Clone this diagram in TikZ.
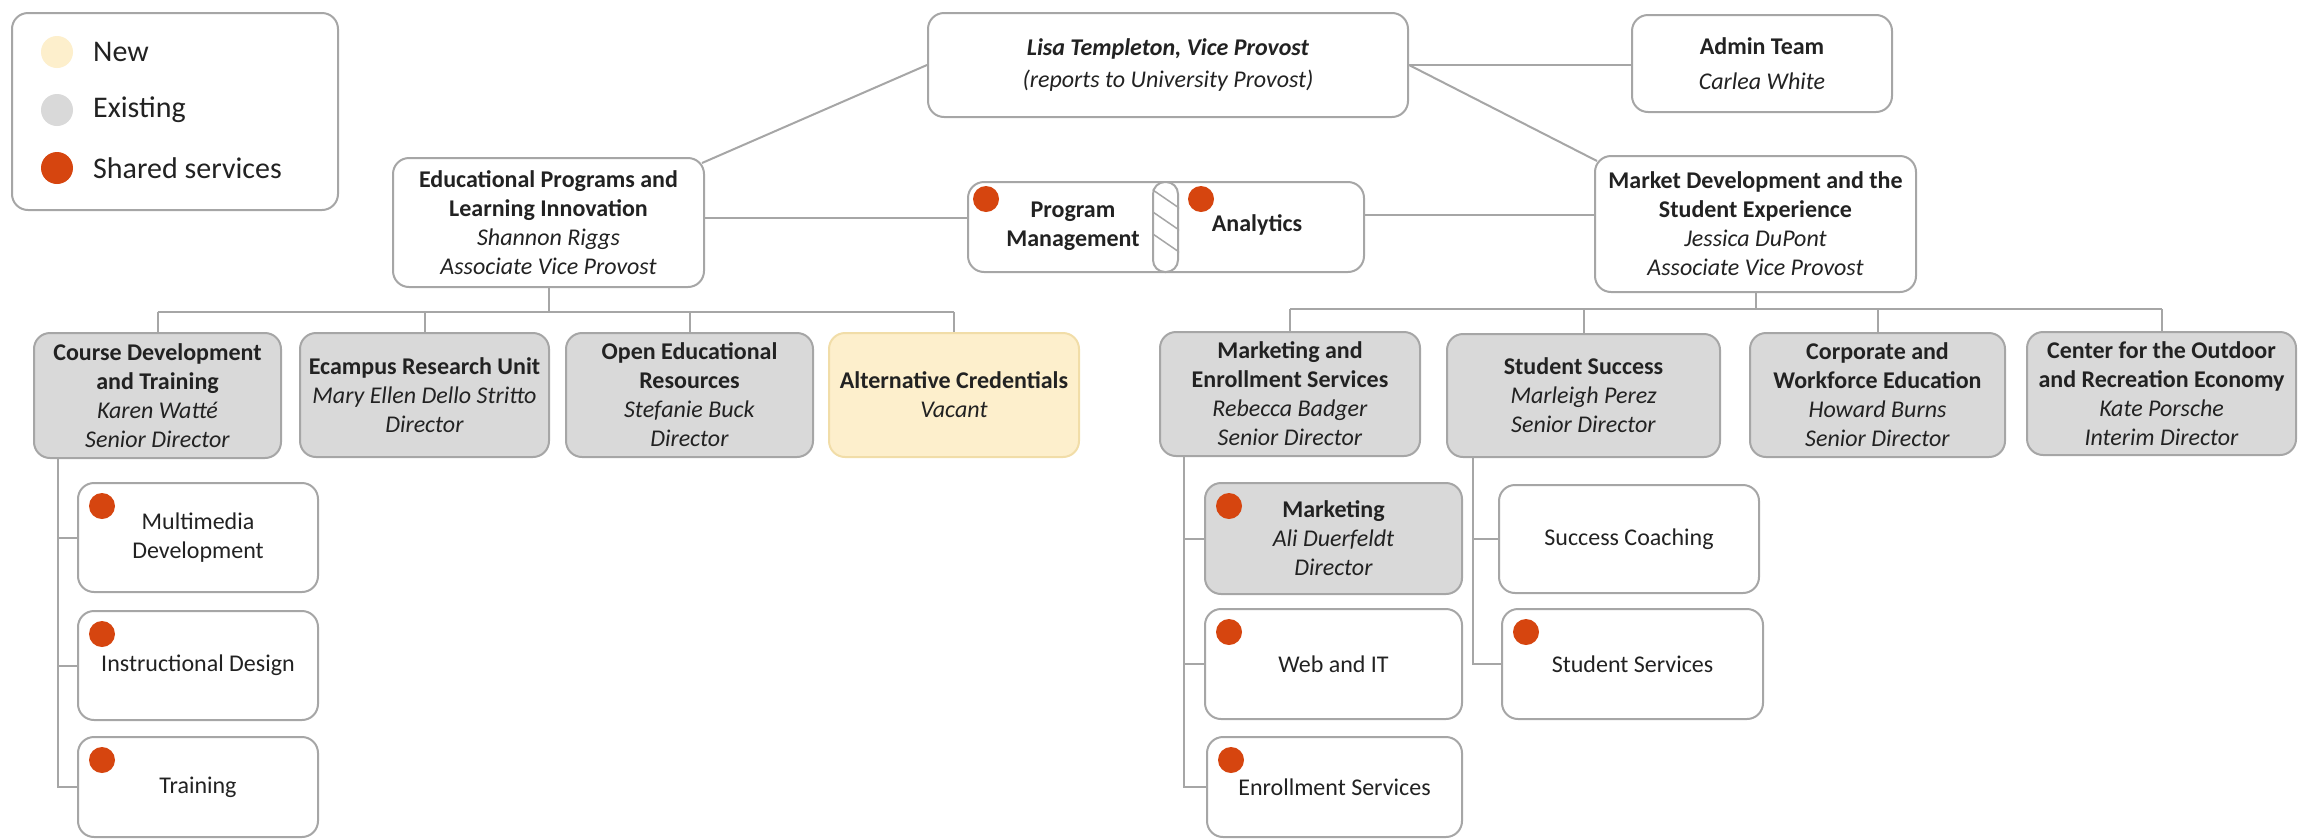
\documentclass[tikz,border=0pt]{standalone}
\usepackage{fontspec}
\setmainfont{Carlito}
\usepackage{tikz}
\definecolor{linegray}{HTML}{A6A6A6}
\definecolor{existgray}{HTML}{D9D9D9}
\definecolor{newyellow}{HTML}{FDEFCC}
\definecolor{newedge}{HTML}{F1DDA8}
\definecolor{sharedred}{HTML}{D6450F}
\definecolor{inkgray}{HTML}{222222}

\begin{document}
\begin{tikzpicture}[x=1pt,y=-1pt]
      \tikzstyle{unit}=[rectangle, rounded corners=16pt, draw=linegray, line width=2pt, fill=white, inner sep=0pt, align=center, text=inkgray, font=\fontsize{24}{29}\selectfont]
      \tikzstyle{existing}=[unit, fill=existgray]
      \tikzstyle{newunit}=[unit, fill=newyellow, draw=newedge]
      \tikzstyle{wire}=[draw=linegray, line width=2pt]
      \tikzstyle{shared}=[fill=sharedred]
      \tikzstyle{key}=[anchor=west, inner sep=0pt, text=inkgray, font=\fontsize{30}{36}\selectfont]
      \useasboundingbox (0,0) rectangle (2298,839);

      \node[unit, minimum width=326pt, minimum height=197pt] (legend) at (175,111.5) {};
      \fill[newyellow] (57,52) circle (16pt);
      \fill[existgray] (57,110) circle (16pt);
      \fill[shared] (57,168) circle (16pt);
      \node[key] (lnew) at (93,52) {New};
      \node[key] (lexist) at (93,110) {Existing};
      \node[key] (lshared) at (93,168) {Shared services};

      \node[unit, minimum width=480pt, minimum height=104pt] (lisa) at (1168,65)
        {\textbf{\textit{Lisa Templeton, Vice Provost}}\\[3pt]\textit{(reports to University Provost)}};
      \node[unit, minimum width=260pt, minimum height=97pt] (admin) at (1762,63.5)
        {\textbf{Admin Team}\\[6pt]\textit{Carlea White}};
      \node[unit, minimum width=311pt, minimum height=129pt] (edu) at (548.5,222.5)
        {\textbf{Educational Programs and}\\\textbf{Learning Innovation}\\\textit{Shannon Riggs}\\\textit{Associate Vice Provost}};
      \node[unit, minimum width=321pt, minimum height=136pt] (market) at (1755.5,224)
        {\textbf{Market Development and the}\\\textbf{Student Experience}\\\textit{Jessica DuPont}\\\textit{Associate Vice Provost}};

      \node[unit, minimum width=396pt, minimum height=90pt] (pmbox) at (1166,227) {};
      \node[unit, rounded corners=12pt, minimum width=25pt, minimum height=90pt] (pmdiv) at (1165.5,227) {};
      \begin{scope}
        \clip[rounded corners=12pt] (pmdiv.south west) rectangle (pmdiv.north east);
        \foreach \y in {188,210,232} \draw[linegray, line width=1.5pt] (1150,\y) -- (1182,\y+22);
      \end{scope}
      \fill[shared] ([shift={(19pt,-18pt)}]pmbox.north west) circle (13pt);
      \fill[shared] ([shift={(22pt,-18pt)}]pmdiv.north east) circle (13pt);
      \node[unit, draw=none, fill=none] (pm) at (1073,226.5) {\textbf{Program}\\\textbf{Management}};
      \node[unit, draw=none, fill=none] (ana) at (1257,225) {\textbf{Analytics}};

      \node[existing, minimum width=247pt, minimum height=125pt] (cdt) at (157.5,395.5)
        {\textbf{Course Development}\\\textbf{and Training}\\\textit{Karen Watté}\\\textit{Senior Director}};
      \node[existing, minimum width=249pt, minimum height=124pt] (eru) at (424.5,395)
        {\textbf{Ecampus Research Unit}\\\textit{Mary Ellen Dello Stritto}\\\textit{Director}};
      \node[existing, minimum width=247pt, minimum height=124pt] (oer) at (689.5,395)
        {\textbf{Open Educational}\\\textbf{Resources}\\\textit{Stefanie Buck}\\\textit{Director}};
      \node[newunit, minimum width=250pt, minimum height=124pt] (altc) at (954,395)
        {\textbf{Alternative Credentials}\\\textit{Vacant}};

      \node[existing, minimum width=260pt, minimum height=124pt] (mes) at (1290,394)
        {\textbf{Marketing and}\\\textbf{Enrollment Services}\\\textit{Rebecca Badger}\\\textit{Senior Director}};
      \node[existing, minimum width=273pt, minimum height=123pt] (ssu) at (1583.5,395.5)
        {\textbf{Student Success}\\\textit{Marleigh Perez}\\\textit{Senior Director}};
      \node[existing, minimum width=255pt, minimum height=124pt] (cwe) at (1877.5,395)
        {\textbf{Corporate and}\\\textbf{Workforce Education}\\\textit{Howard Burns}\\\textit{Senior Director}};
      \node[existing, minimum width=269pt, minimum height=123pt] (core) at (2161.5,393.5)
        {\textbf{Center for the Outdoor}\\\textbf{and Recreation Economy}\\\textit{Kate Porsche}\\\textit{Interim Director}};

      \node[unit, minimum width=240pt, minimum height=109pt] (mmd) at (198,537.5) {Multimedia\\Development};
      \node[unit, minimum width=240pt, minimum height=109pt] (ides) at (198,665.5) {Instructional Design};
      \node[unit, minimum width=240pt, minimum height=100pt] (trn) at (198,787) {Training};

      \node[existing, minimum width=257pt, minimum height=111pt] (mkt) at (1333.5,538.5)
        {\textbf{Marketing}\\\textit{Ali Duerfeldt}\\\textit{Director}};
      \node[unit, minimum width=257pt, minimum height=110pt] (web) at (1333.5,664) {Web and IT};
      \node[unit, minimum width=255pt, minimum height=100pt] (enr) at (1334.5,787) {Enrollment Services};
      \node[unit, minimum width=260pt, minimum height=108pt] (sco) at (1629,539) {Success Coaching};
      \node[unit, minimum width=261pt, minimum height=110pt] (ssv) at (1632.5,664) {Student Services};

      \foreach \n in {mmd,ides,trn,mkt,web,enr,ssv}
        \fill[shared] ([shift={(25pt,-24pt)}]\n.north west) circle (13pt);

      \draw[wire] (lisa.west) -- ([shift={(-3pt,-6pt)}]edu.north east);
      \draw[wire] (lisa.east) -- ([shift={(3pt,-6pt)}]market.north west);
      \draw[wire] (lisa.east) -- (lisa.east -| admin.west);
      \draw[wire] ([yshift=5pt]edu.east) -- ([yshift=5pt]edu.east -| pmbox.west);
      \draw[wire] ([yshift=9pt]market.west) -- ([yshift=9pt]market.west -| pmbox.east);

      \coordinate (ebus) at (548.5,312);
      \draw[wire] (edu.south) -- (ebus);
      \draw[wire] (cdt.north |- ebus) -- (altc.north |- ebus);
      \foreach \n in {cdt,eru,oer,altc} \draw[wire] (\n.north |- ebus) -- (\n.north);

      \coordinate (mbus) at (1755.5,309);
      \draw[wire] (market.south) -- (mbus);
      \draw[wire] (mes.north |- mbus) -- (core.north |- mbus);
      \foreach \n in {mes,ssu,cwe,core} \draw[wire] (\n.north |- mbus) -- (\n.north);

      \coordinate (cdtsp) at ([xshift=25pt]cdt.south west);
      \draw[wire] (cdtsp) |- (trn.west);
      \foreach \n in {mmd,ides} \draw[wire] (cdtsp |- \n.west) -- (\n.west);
      \coordinate (messp) at ([xshift=25pt]mes.south west);
      \draw[wire] (messp) |- (enr.west);
      \foreach \n in {mkt,web} \draw[wire] (messp |- \n.west) -- (\n.west);
      \coordinate (ssusp) at ([xshift=27pt]ssu.south west);
      \draw[wire] (ssusp) |- (ssv.west);
      \draw[wire] (ssusp |- sco.west) -- (sco.west);
\end{tikzpicture}
\end{document}
